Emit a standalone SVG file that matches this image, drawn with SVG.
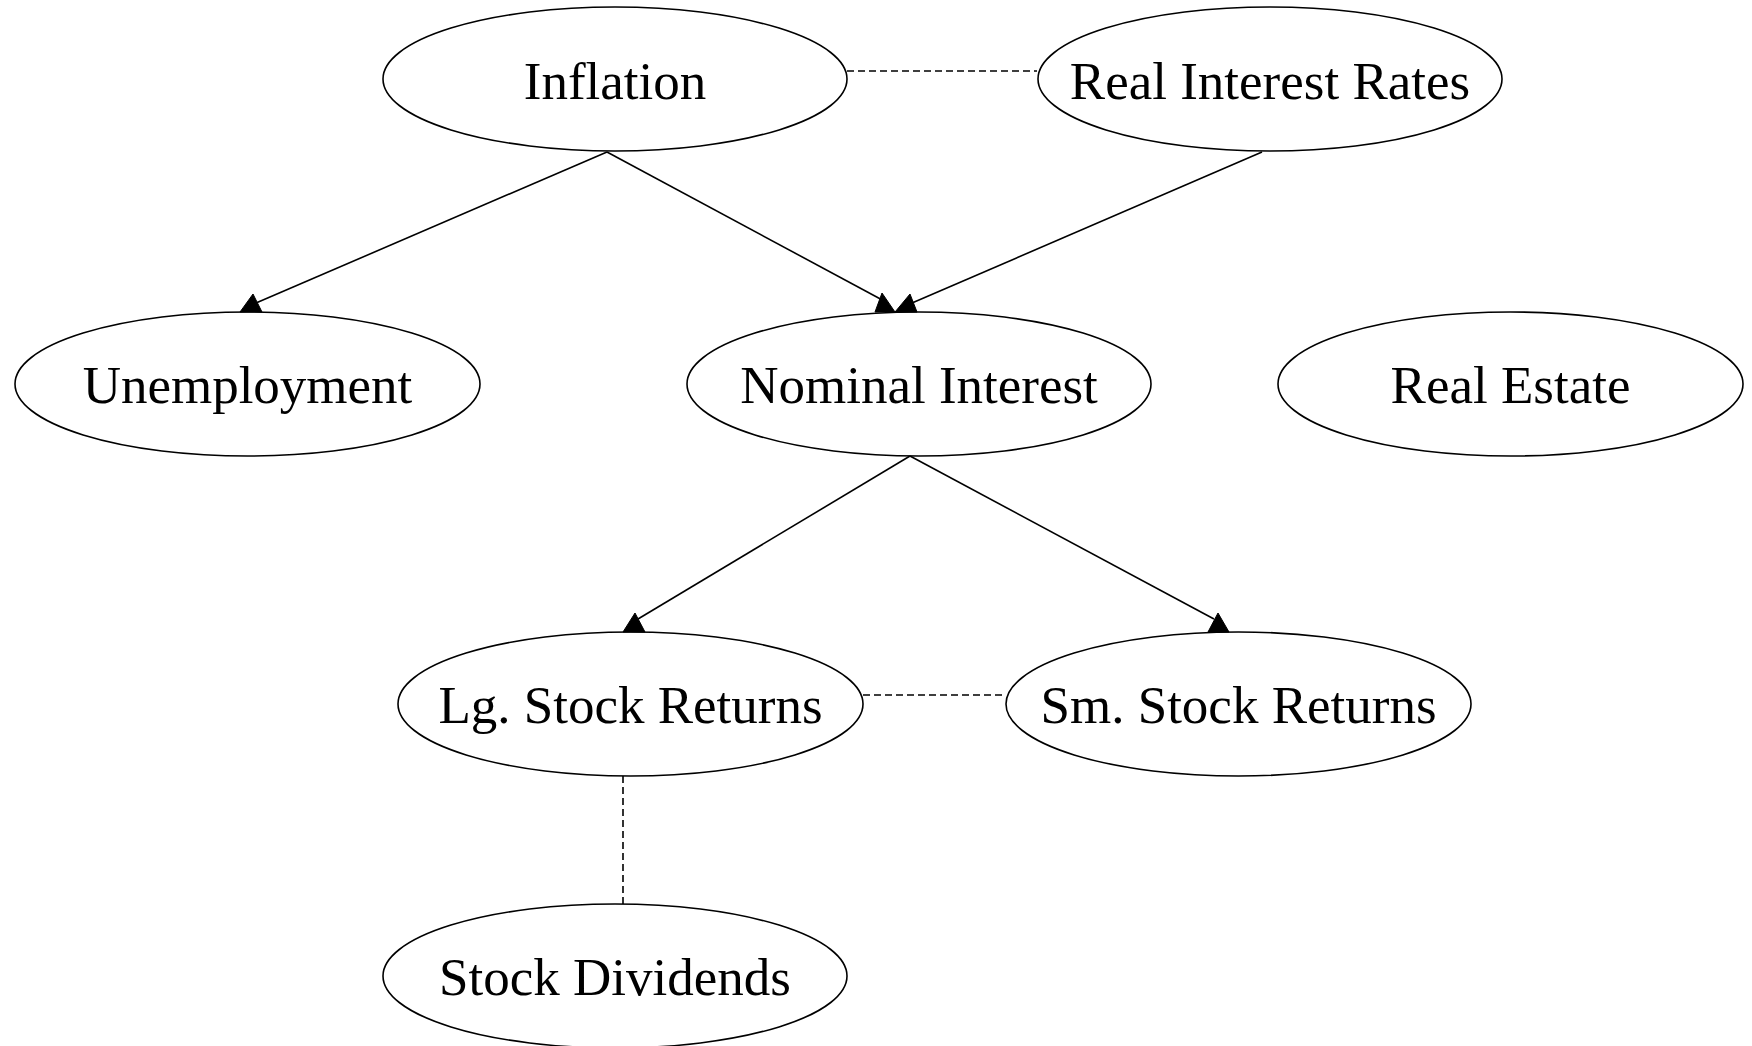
<svg xmlns="http://www.w3.org/2000/svg" width="1752" height="1046" viewBox="0 0 1752 1046">
<style>
.node ellipse{fill:none;stroke:#000;stroke-width:1.6}
.node text{font-family:"Liberation Serif","Times New Roman",serif;font-size:53px;text-anchor:middle;fill:#000}
.edge line{stroke:#000;stroke-width:1.6}
.edge .dash{stroke-dasharray:7,4}
.edge polygon{fill:#000;stroke:#000;stroke-width:1}
</style>
<rect width="1752" height="1046" fill="#fff"/>
<g id="connectors" class="edge">
<line x1="847" y1="71" x2="1037" y2="71" class="dash"/>
<line x1="863" y1="695" x2="1006" y2="695" class="dash"/>
<line x1="623" y1="776" x2="623" y2="904" class="dash"/>
<line x1="607" y1="152" x2="256" y2="303"/>
<polygon points="253,294 240,312 262,312"/>
<line x1="607" y1="152" x2="886" y2="302"/>
<polygon points="882,293 875,312 895,312"/>
<line x1="1262" y1="152" x2="912" y2="303"/>
<polygon points="910,294 895,312 917,312"/>
<line x1="910" y1="456" x2="638" y2="619"/>
<polygon points="635,613 623,632 645,632"/>
<line x1="910" y1="456" x2="1214" y2="619"/>
<polygon points="1218,613 1208,632 1229,632"/>
</g>
<g id="inflation" class="node"><ellipse cx="615" cy="79" rx="232" ry="72"/><text x="615" y="99">Inflation</text></g>
<g id="real-interest-rates" class="node"><ellipse cx="1270" cy="79" rx="232" ry="72"/><text x="1270" y="99">Real Interest Rates</text></g>
<g id="unemployment" class="node"><ellipse cx="247.5" cy="384" rx="232.5" ry="72"/><text x="247.5" y="403">Unemployment</text></g>
<g id="nominal-interest" class="node"><ellipse cx="919" cy="384" rx="232" ry="72"/><text x="919" y="403">Nominal Interest</text></g>
<g id="real-estate" class="node"><ellipse cx="1510.5" cy="384" rx="232.5" ry="72"/><text x="1510.5" y="403">Real Estate</text></g>
<g id="lg-stock-returns" class="node"><ellipse cx="630.5" cy="704" rx="232.5" ry="72"/><text x="630.5" y="723">Lg. Stock Returns</text></g>
<g id="sm-stock-returns" class="node"><ellipse cx="1238.5" cy="704" rx="232.5" ry="72"/><text x="1238.5" y="723">Sm. Stock Returns</text></g>
<g id="stock-dividends" class="node"><ellipse cx="615" cy="976" rx="232" ry="72"/><text x="615" y="995">Stock Dividends</text></g>
</svg>
